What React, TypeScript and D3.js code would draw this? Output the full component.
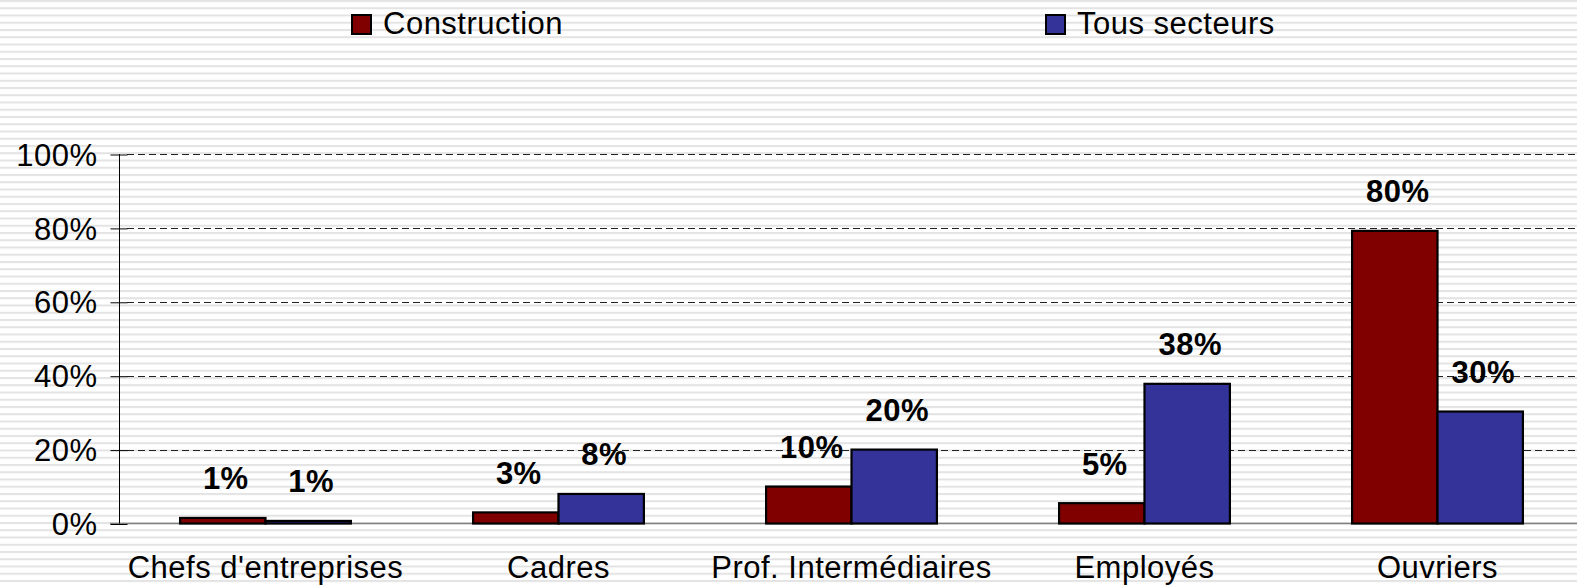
import React, { useEffect, useRef } from 'react';
import * as d3 from 'd3';

const categories = ['Chefs d\'entreprises', 'Cadres', 'Prof. Intermédiaires', 'Employés', 'Ouvriers'];
const seriesNames = ['Construction', 'Tous secteurs'];
const construction = [1.5, 3, 10, 5.5, 79.2];
const tousSecteurs = [0.7, 8, 20, 37.8, 30.3];
const constructionLabels = ['1%', '3%', '10%', '5%', '80%'];
const tousLabels = ['1%', '8%', '20%', '38%', '30%'];
const yTicks = [0, 20, 40, 60, 80, 100];

const colors = ['#800000', '#333399'];
const FONT = '"Liberation Sans", Arial, sans-serif';

const App = () => {
  const svgRef = useRef<SVGSVGElement>(null);

  useEffect(() => {
    const svg = d3.select(svgRef.current);
    svg.selectAll('*').remove();

    const width = 1577;
    const height = 587;

    // striped background
    const defs = svg.append('defs');
    const pat = defs
      .append('pattern')
      .attr('id', 'stripes')
      .attr('patternUnits', 'userSpaceOnUse')
      .attr('width', 10)
      .attr('height', 7.25);
    pat.append('rect').attr('width', 10).attr('height', 7.25).attr('fill', '#ffffff');
    pat.append('rect').attr('y', 0).attr('width', 10).attr('height', 2).attr('fill', '#e3e3e3');
    svg.append('rect').attr('width', width).attr('height', height).attr('fill', 'url(#stripes)');

    const x = d3.scaleBand<string>().domain(categories).range([119, 1584]).padding(0);
    const y = d3.scaleLinear().domain([0, 100]).range([523.5, 154]);
    const barW = x.bandwidth() * 0.2915;

    // gridlines
    svg
      .append('g')
      .selectAll('line')
      .data(yTicks.filter((t) => t > 0))
      .join('line')
      .attr('x1', 127)
      .attr('x2', width)
      .attr('y1', (d) => Math.round(y(d)) + 0.5)
      .attr('y2', (d) => Math.round(y(d)) + 0.5)
      .attr('stroke', '#222')
      .attr('stroke-width', 1)
      .attr('stroke-dasharray', '7,4');

    // zero line
    svg
      .append('line')
      .attr('x1', 110)
      .attr('x2', width)
      .attr('y1', y(0))
      .attr('y2', y(0))
      .attr('stroke', '#808080')
      .attr('stroke-width', 1.5);

    // y axis
    const yAxis = svg
      .append('g')
      .attr('transform', 'translate(119.5,0)')
      .call(
        d3
          .axisLeft(y)
          .tickValues(yTicks)
          .tickSize(9)
          .tickPadding(13)
          .tickFormat((d) => `${d}%`)
      );
    yAxis.select('.domain').attr('stroke', '#000').attr('d', `M0,${y(100)}V${y(0)}`);
    yAxis
      .selectAll('.tick line')
      .attr('x1', 8)
      .attr('x2', -9)
      .attr('stroke', '#000')
      .attr('transform', 'translate(0,0.5)');
    yAxis
      .selectAll('.tick text')
      .attr('font-family', FONT)
      .attr('font-size', 31)
      .attr('letter-spacing', 0.5)
      .attr('fill', '#000')
      .attr('dy', '0.36em');

    const series = [construction, tousSecteurs];
    const labels = [constructionLabels, tousLabels];

    series.forEach((vals, s) => {
      const g = svg.append('g');
      g.selectAll('rect')
        .data(vals)
        .join('rect')
        .attr('x', (d, i) => x(categories[i])! + x.bandwidth() / 2 - barW + s * barW)
        .attr('y', (d) => y(d))
        .attr('width', barW)
        .attr('height', (d) => y(0) - y(d))
        .attr('fill', colors[s])
        .attr('stroke', '#000')
        .attr('stroke-width', 2.2);

      g.selectAll('text')
        .data(vals)
        .join('text')
        .attr('x', (d, i) => x(categories[i])! + x.bandwidth() / 2 - barW / 2 + s * barW + 3)
        .attr('y', (d) => y(d) - 28.5)
        .attr('text-anchor', 'middle')
        .attr('font-family', FONT)
        .attr('font-weight', 'bold')
        .attr('font-size', 31)
        .attr('letter-spacing', 0.5)
        .attr('fill', '#000')
        .text((d, i) => labels[s][i]);
    });

    // x labels
    svg
      .append('g')
      .selectAll('text')
      .data(categories)
      .join('text')
      .attr('x', (d) => x(d)! + x.bandwidth() / 2)
      .attr('y', 578)
      .attr('text-anchor', 'middle')
      .attr('font-family', FONT)
      .attr('font-size', 31)
      .attr('letter-spacing', 0.5)
      .attr('fill', '#000')
      .text((d) => d);

    // legend
    const legendX = [352, 1046];
    const legend = svg
      .append('g')
      .selectAll('g')
      .data(seriesNames)
      .join('g')
      .attr('transform', (d, i) => `translate(${legendX[i]},15)`);
    legend
      .append('rect')
      .attr('width', 19)
      .attr('height', 19)
      .attr('fill', (d, i) => colors[i])
      .attr('stroke', '#000')
      .attr('stroke-width', 2);
    legend
      .append('text')
      .attr('x', 31)
      .attr('y', 19)
      .attr('font-family', FONT)
      .attr('font-size', 31)
      .attr('letter-spacing', 0.5)
      .attr('fill', '#000')
      .text((d) => d);
  }, []);

  return (
    <svg
      ref={svgRef}
      width={1577}
      height={587}
      style={{ position: 'absolute', left: 0, top: 0, display: 'block' }}
    />
  );
};

export default App;
